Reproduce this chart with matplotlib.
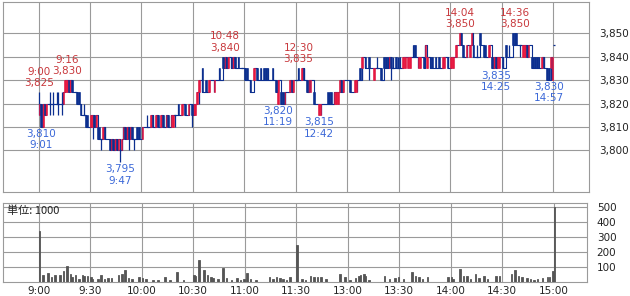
import matplotlib.pyplot as plt
import numpy as np

# 1-minute candles, x = minutes from 9:00 (lunch break removed)
cd_m = [0, 1, 2, 3, 4, 6, 8, 10, 11, 13, 14, 15, 16, 17, 18, 19, 21, 22, 23, 24,
        26, 27, 28, 30, 31, 32, 33, 34, 35, 36, 37, 38, 41, 42, 43, 44, 45, 46, 47, 48,
        49, 50, 51, 52, 53, 54, 55, 57, 58, 60, 63, 65, 66, 68, 69, 71, 72, 74, 75, 77,
        78, 79, 81, 83, 85, 87, 89, 90, 91, 92, 93, 95, 97, 99, 102, 105, 107, 108, 109, 110,
        112, 113, 114, 116, 118, 120, 121, 123, 125, 127, 129, 131, 132, 133, 136, 138, 139, 141, 142, 143,
        146, 147, 148, 150, 151, 153, 154, 156, 157, 158, 160, 163, 164, 168, 169, 170, 172, 173, 174, 175,
        176, 177, 181, 184, 185, 187, 188, 190, 192, 195, 197, 199, 201, 202, 203, 204, 205, 206, 208, 209,
        210, 212, 213, 215, 216, 218, 219, 221, 222, 224, 225, 226, 228, 229, 231, 233, 235, 236, 238, 240,
        241, 243, 245, 246, 247, 249, 251, 252, 253, 255, 257, 259, 260, 262, 264, 265, 266, 267, 268, 270,
        272, 274, 276, 277, 278, 280, 282, 283, 284, 285, 287, 288, 289, 290, 291, 293, 294, 296, 297, 298,
        299, 300]
cd_o = [3815, 3820, 3810, 3820, 3815, 3820, 3820, 3820, 3820, 3820, 3820, 3825, 3825, 3830, 3825, 3830, 3825, 3825, 3825, 3820,
        3815, 3815, 3815, 3810, 3810, 3815, 3810, 3810, 3810, 3805, 3805, 3810, 3805, 3800, 3805, 3800, 3805, 3800, 3800, 3800,
        3805, 3810, 3805, 3810, 3805, 3810, 3805, 3810, 3810, 3805, 3810, 3810, 3815, 3810, 3815, 3810, 3815, 3810, 3815, 3810,
        3810, 3815, 3820, 3815, 3820, 3815, 3820, 3815, 3815, 3820, 3825, 3835, 3830, 3825, 3825, 3835, 3840, 3835, 3840, 3835,
        3840, 3835, 3840, 3840, 3835, 3835, 3835, 3830, 3830, 3835, 3835, 3835, 3835, 3835, 3835, 3830, 3820, 3825, 3825, 3820,
        3825, 3830, 3825, 3830, 3835, 3830, 3835, 3830, 3825, 3825, 3825, 3815, 3815, 3825, 3825, 3825, 3820, 3820, 3820, 3825,
        3830, 3825, 3830, 3825, 3825, 3835, 3835, 3840, 3840, 3830, 3835, 3835, 3840, 3840, 3840, 3835, 3840, 3835, 3840, 3835,
        3840, 3835, 3835, 3835, 3835, 3845, 3845, 3835, 3835, 3840, 3840, 3835, 3840, 3840, 3840, 3840, 3835, 3835, 3840, 3835,
        3835, 3840, 3845, 3850, 3845, 3840, 3840, 3845, 3845, 3840, 3850, 3845, 3845, 3840, 3840, 3835, 3840, 3835, 3835, 3840,
        3845, 3840, 3850, 3850, 3850, 3845, 3840, 3840, 3845, 3840, 3840, 3840, 3840, 3840, 3840, 3835, 3840, 3835, 3835, 3835,
        3830, 3845]
cd_h = [3825, 3820, 3820, 3820, 3820, 3825, 3825, 3825, 3825, 3825, 3825, 3830, 3830, 3830, 3830, 3830, 3825, 3825, 3825, 3820,
        3820, 3815, 3815, 3815, 3815, 3815, 3815, 3810, 3810, 3805, 3810, 3810, 3805, 3805, 3805, 3805, 3805, 3805, 3805, 3805,
        3810, 3810, 3810, 3810, 3810, 3810, 3805, 3810, 3810, 3810, 3815, 3815, 3815, 3815, 3815, 3815, 3815, 3815, 3815, 3815,
        3815, 3815, 3820, 3820, 3820, 3820, 3820, 3820, 3820, 3825, 3830, 3835, 3830, 3830, 3830, 3835, 3840, 3840, 3840, 3840,
        3840, 3840, 3840, 3840, 3835, 3835, 3835, 3830, 3835, 3835, 3835, 3835, 3835, 3835, 3835, 3830, 3830, 3825, 3825, 3825,
        3830, 3830, 3830, 3830, 3835, 3835, 3835, 3830, 3830, 3830, 3825, 3820, 3820, 3825, 3825, 3825, 3825, 3825, 3825, 3830,
        3830, 3830, 3830, 3830, 3830, 3835, 3840, 3840, 3840, 3835, 3840, 3835, 3840, 3840, 3840, 3840, 3840, 3840, 3840, 3840,
        3840, 3840, 3840, 3840, 3840, 3845, 3845, 3840, 3840, 3840, 3845, 3840, 3840, 3840, 3840, 3840, 3840, 3840, 3840, 3840,
        3840, 3845, 3850, 3850, 3845, 3845, 3845, 3850, 3845, 3845, 3850, 3845, 3845, 3845, 3840, 3840, 3840, 3840, 3840, 3840,
        3845, 3845, 3850, 3850, 3850, 3845, 3845, 3845, 3845, 3845, 3840, 3840, 3840, 3840, 3840, 3840, 3840, 3835, 3835, 3840,
        3840, 3845]
cd_l = [3815, 3810, 3810, 3815, 3815, 3815, 3815, 3820, 3815, 3815, 3820, 3825, 3825, 3825, 3825, 3825, 3825, 3820, 3820, 3815,
        3815, 3810, 3810, 3810, 3805, 3810, 3810, 3805, 3805, 3800, 3805, 3805, 3800, 3800, 3800, 3800, 3800, 3800, 3795, 3800,
        3805, 3805, 3805, 3800, 3805, 3805, 3800, 3805, 3805, 3805, 3810, 3810, 3810, 3810, 3810, 3810, 3810, 3810, 3810, 3810,
        3810, 3810, 3815, 3815, 3815, 3815, 3810, 3815, 3815, 3820, 3820, 3825, 3825, 3825, 3825, 3830, 3835, 3835, 3835, 3835,
        3835, 3835, 3835, 3835, 3835, 3830, 3830, 3825, 3830, 3830, 3830, 3830, 3830, 3830, 3830, 3825, 3820, 3820, 3820, 3820,
        3825, 3825, 3825, 3830, 3830, 3830, 3830, 3825, 3825, 3825, 3820, 3815, 3815, 3820, 3820, 3820, 3820, 3820, 3820, 3825,
        3825, 3825, 3825, 3825, 3825, 3830, 3830, 3835, 3830, 3830, 3835, 3830, 3835, 3835, 3835, 3835, 3830, 3835, 3835, 3835,
        3835, 3835, 3835, 3835, 3835, 3840, 3840, 3835, 3835, 3835, 3840, 3835, 3835, 3835, 3835, 3835, 3835, 3835, 3835, 3835,
        3835, 3840, 3845, 3845, 3840, 3840, 3840, 3845, 3840, 3840, 3845, 3840, 3840, 3840, 3835, 3835, 3835, 3835, 3835, 3835,
        3840, 3840, 3845, 3845, 3845, 3840, 3840, 3840, 3840, 3840, 3835, 3835, 3835, 3835, 3835, 3835, 3835, 3830, 3830, 3835,
        3830, 3845]
cd_c = [3820, 3810, 3820, 3815, 3820, 3820, 3820, 3820, 3820, 3820, 3825, 3830, 3830, 3825, 3830, 3825, 3825, 3820, 3820, 3815,
        3815, 3810, 3810, 3815, 3815, 3810, 3815, 3805, 3805, 3805, 3810, 3805, 3800, 3805, 3800, 3805, 3800, 3805, 3800, 3805,
        3810, 3805, 3810, 3805, 3810, 3805, 3805, 3805, 3805, 3810, 3810, 3815, 3810, 3815, 3810, 3815, 3810, 3815, 3810, 3815,
        3815, 3815, 3815, 3820, 3815, 3820, 3815, 3820, 3820, 3825, 3830, 3825, 3825, 3830, 3830, 3830, 3835, 3840, 3835, 3840,
        3835, 3840, 3835, 3835, 3835, 3830, 3830, 3825, 3835, 3830, 3830, 3830, 3830, 3830, 3830, 3825, 3830, 3820, 3820, 3825,
        3830, 3825, 3830, 3830, 3830, 3835, 3830, 3825, 3830, 3830, 3820, 3820, 3820, 3820, 3820, 3820, 3825, 3825, 3825, 3830,
        3825, 3830, 3825, 3830, 3830, 3830, 3840, 3835, 3835, 3835, 3835, 3830, 3835, 3835, 3835, 3840, 3835, 3835, 3835, 3835,
        3835, 3840, 3840, 3840, 3840, 3840, 3840, 3840, 3840, 3835, 3845, 3840, 3835, 3835, 3835, 3835, 3840, 3840, 3835, 3840,
        3840, 3845, 3850, 3845, 3840, 3845, 3845, 3850, 3840, 3840, 3845, 3840, 3840, 3845, 3835, 3840, 3835, 3840, 3840, 3835,
        3840, 3840, 3845, 3845, 3845, 3845, 3845, 3845, 3840, 3845, 3835, 3835, 3835, 3835, 3835, 3840, 3835, 3830, 3830, 3840,
        3840, 3845]

# volume (thousand shares)
vol_m = [0, 2, 5, 7, 9, 12, 14, 16, 18, 19, 21, 23, 25, 26, 28, 30, 31, 34, 36, 38,
         40, 42, 46, 48, 50, 52, 54, 58, 60, 62, 66, 69, 73, 76, 80, 84, 90, 91, 93, 96,
         98, 100, 101, 104, 107, 109, 112, 115, 117, 119, 121, 123, 126, 134, 136, 138, 140, 142, 144, 146,
         150, 153, 155, 158, 160, 162, 164, 167, 175, 178, 181, 184, 186, 187, 189, 190, 192, 201, 204, 207,
         209, 212, 217, 219, 221, 223, 226, 238, 240, 241, 245, 247, 249, 251, 254, 256, 259, 261, 266, 268,
         275, 277, 279, 281, 284, 286, 288, 290, 293, 296, 297, 299, 300]
vol_k = [344, 51, 62, 33, 49, 49, 73, 109, 56, 33, 49, 22, 51, 44, 44, 33, 22, 22, 49, 22,
         29, 29, 51, 56, 82, 27, 22, 33, 27, 22, 18, 18, 38, 16, 67, 16, 51, 44, 149, 82,
         51, 33, 27, 22, 96, 27, 16, 27, 18, 22, 60, 22, 16, 33, 22, 33, 27, 22, 18, 33,
         248, 22, 16, 40, 38, 33, 33, 22, 56, 33, 16, 29, 40, 51, 56, 40, 16, 44, 22, 27,
         33, 22, 67, 44, 33, 22, 33, 33, 33, 22, 89, 44, 40, 22, 56, 27, 44, 22, 40, 40,
         56, 82, 44, 33, 29, 22, 18, 22, 27, 33, 38, 78, 500]

# high / low markers
hi_m = [0, 16, 108, 151, 245, 277]
hi_t = ['9:00', '9:16', '10:48', '12:30', '14:04', '14:36']
hi_p = [3825, 3830, 3840, 3835, 3850, 3850]
lo_m = [1, 47, 139, 163, 266, 297]
lo_t = ['9:01', '9:47', '11:19', '12:42', '14:25', '14:57']
lo_p = [3810, 3795, 3820, 3815, 3835, 3830]

xt = [0, 30, 60, 90, 120, 150, 180, 210, 240, 270, 300]
xt_lab = ['9:00', '9:30', '10:00', '10:30', '11:00', '11:30',
          '13:00', '13:30', '14:00', '14:30', '15:00']

red = '#e8173f'
navy = '#0c2f8f'
grid_c = '#9a9a9a'

plt.rcParams['font.family'] = ['DejaVu Sans']
plt.rcParams['font.size'] = 7.5

fig = plt.figure(figsize=(6.3, 2.96), dpi=100)
ax = fig.add_axes([3/630, 1-192/296, 586/630, 189.7/296])
axv = fig.add_axes([3/630, 1-282.3/296, 584/630, 79/296])

m = np.array(cd_m)
o = np.array(cd_o)
h = np.array(cd_h)
l = np.array(cd_l)
c = np.array(cd_c)

# connecting line through closes
ax.step(m[:-1] + 0.5, c[:-1], where='post', color=navy, lw=0.8, zorder=2)
# wicks
ax.vlines(m + 0.5, l, h, color=navy, lw=0.9, zorder=3)
# bodies
up = c > o
dn = c < o
ax.bar(m[up] + 0.5, (c - o)[up], bottom=o[up], width=0.9, color=red,
       edgecolor=red, lw=0.4, zorder=4)
ax.bar(m[dn] + 0.5, (o - c)[dn], bottom=c[dn], width=0.9, color=navy,
       edgecolor=navy, lw=0.4, zorder=4)
dj = c == o
ax.hlines(c[dj], m[dj], m[dj] + 1, color=navy, lw=0.9, zorder=4)

for mm, t, p in zip(hi_m, hi_t, hi_p):
    ax.annotate(f'{t}\n{p:,}', xy=(mm + 0.5, p), xytext=(0, 3), textcoords='offset points',
                ha='center', va='bottom', color='#c8383c', fontsize=7.5, linespacing=1.15)
for mm, t, p in zip(lo_m, lo_t, lo_p):
    ax.annotate(f'{p:,}\n{t}', xy=(mm + 0.5, p), xytext=(0, -1.5), textcoords='offset points',
                ha='center', va='top', color='#3b68d8', fontsize=7.5, linespacing=1.15)

ax.set_xlim(-20.7, 320.9)
ax.set_ylim(3782.3, 3863.2)
ax.set_xticks(xt)
ax.set_xticklabels([])
ax.set_yticks([3800, 3810, 3820, 3830, 3840, 3850])
ax.set_yticklabels([f'{v:,}' for v in [3800, 3810, 3820, 3830, 3840, 3850]])

axv.bar(np.array(vol_m) + 0.5, vol_k, width=0.9, color='#555555',
        edgecolor='#555555', lw=0.6, zorder=3)
axv.set_xlim(-20.7, 319.4)
axv.set_ylim(0, 527)
axv.set_xticks(xt)
axv.set_xticklabels(xt_lab)
axv.set_yticks([100, 200, 300, 400, 500])
axv.text(0.007, 0.975, '単位: 1000', transform=axv.transAxes, ha='left', va='top',
         fontsize=8, color='#222222', family=['Noto Sans CJK JP', 'DejaVu Sans'])

for a in (ax, axv):
    a.yaxis.tick_right()
    a.tick_params(length=0, colors='#222222', labelsize=7.5)
    a.tick_params(axis='y', pad=7)
    a.tick_params(axis='x', pad=3)
    a.grid(True, color=grid_c, lw=0.8)
    a.set_axisbelow(True)
    for s in a.spines.values():
        s.set_color(grid_c)
        s.set_linewidth(0.8)

plt.savefig('out.png', dpi=100)
